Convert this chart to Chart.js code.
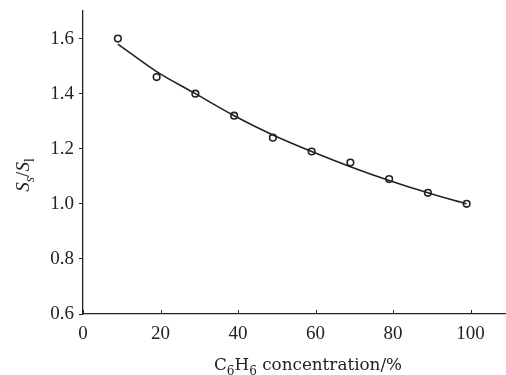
<!DOCTYPE html>
<html>
<head>
<meta charset="utf-8">
<script src="https://cdn.jsdelivr.net/npm/chart.js@4/dist/chart.umd.min.js"></script>
<style>
  html, body { margin: 0; background: #fff; overflow: hidden; }
  #wrap { width: 511px; height: 375px; position: relative; }
</style>
</head>
<body>
<div id="wrap"><canvas id="ratioChart"></canvas></div>
<script>
// measured points
var concentration = [9, 19, 29, 39, 49, 59, 69, 79, 89, 99];
var ratio = [1.60, 1.46, 1.40, 1.32, 1.24, 1.19, 1.15, 1.09, 1.04, 1.00];
// fitted curve
var fitConcentration = [9, 19, 29, 39, 49, 59, 69, 79, 89, 99];
var fitRatio = [1.58, 1.48, 1.40, 1.32, 1.25, 1.19, 1.135, 1.085, 1.04, 1.00];
// tick labels
var xTicks = [0, 20, 40, 60, 80, 100];
var yTicks = [0.6, 0.8, 1.0, 1.2, 1.4, 1.6];

var SERIF = "'Liberation Serif', 'Times New Roman', serif";
var WIDE_SERIF = "'DejaVu Serif', serif";
var INK = '#222';

// draws a run of text parts, some of them subscript
function drawParts(ctx, parts, size, family, x, y, align) {
    var fontFor = p => (p.italic ? 'italic ' : '') + (p.sub ? size * 0.72 : size) + 'px ' + family;
    var widths = parts.map(p => {
        ctx.font = fontFor(p);
        return ctx.measureText(p.t).width;
    });
    var total = widths.reduce((a, b) => a + b, 0);
    var cx = align === 'center' ? x - total / 2 : x;
    ctx.textBaseline = 'alphabetic';
    ctx.textAlign = 'left';
    parts.forEach((p, i) => {
        ctx.font = fontFor(p);
        ctx.fillText(p.t, cx, y + (p.sub ? size * 0.28 : 0));
        cx += widths[i];
    });
}

var axisTitles = {
    id: 'axisTitles',
    afterDraw: (chart) => {
        var ctx = chart.ctx;
        var xs = chart.scales.x;
        ctx.save();
        ctx.fillStyle = INK;

        // inward ticks on the x axis
        ctx.strokeStyle = INK;
        ctx.lineWidth = 1;
        xs.ticks.forEach(t => {
            var px = Math.round(xs.getPixelForValue(t.value)) + 0.5;
            ctx.beginPath();
            ctx.moveTo(px, xs.top);
            ctx.lineTo(px, xs.top - 4);
            ctx.stroke();
        });

        drawParts(ctx, [
            {t: 'C'}, {t: '6', sub: true}, {t: 'H'}, {t: '6', sub: true}, {t: ' concentration/%'}
        ], 16.8, WIDE_SERIF, 308, 370, 'center');

        ctx.translate(29, 175);
        ctx.rotate(-Math.PI / 2);
        drawParts(ctx, [
            {t: 'S', italic: true}, {t: 's', sub: true, italic: true}, {t: '/'},
            {t: 'S', italic: true}, {t: 'l', sub: true}
        ], 19, SERIF, 0, 0, 'center');
        ctx.restore();
    }
};

new Chart(document.getElementById('ratioChart'), {
    type: 'scatter',
    data: {
        datasets: [
            {
                label: 'fit',
                type: 'line',
                data: fitConcentration.map((c, i) => ({x: c, y: fitRatio[i]})),
                borderColor: INK,
                borderWidth: 1.6,
                pointRadius: 0,
                fill: false,
                cubicInterpolationMode: 'monotone'
            },
            {
                label: 'measured',
                data: concentration.map((c, i) => ({x: c, y: ratio[i]})),
                showLine: false,
                pointStyle: 'circle',
                pointRadius: 3.3,
                pointBorderWidth: 1.6,
                pointBorderColor: INK,
                pointBackgroundColor: 'rgba(255,255,255,0)'
            }
        ]
    },
    options: {
        responsive: true,
        maintainAspectRatio: false,
        animation: false,
        layout: { padding: { left: 0, right: 1, top: 11, bottom: 0 } },
        scales: {
            x: {
                type: 'linear',
                min: 0,
                max: 109,
                afterFit: (s) => {
                    s.height = 61;
                    s.paddingLeft = 0;
                    s.paddingRight = 0;
                },
                afterBuildTicks: (s) => { s.ticks = xTicks.map(v => ({value: v})); },
                border: { display: true, color: INK, width: 1.3 },
                grid: { display: false, drawTicks: false },
                ticks: {
                    padding: 9,
                    color: INK,
                    font: { family: SERIF, size: 19 }
                }
            },
            y: {
                min: 0.6,
                max: 1.7,
                afterFit: (s) => {
                    s.width = 83;
                    s.paddingTop = 0;
                    s.paddingBottom = 0;
                },
                afterBuildTicks: (s) => { s.ticks = yTicks.map(v => ({value: v})); },
                border: { display: true, color: INK, width: 1.3 },
                grid: { drawOnChartArea: false, drawTicks: true, tickLength: 4, color: INK },
                ticks: {
                    padding: 5,
                    color: INK,
                    font: { family: SERIF, size: 19 },
                    callback: (v) => v.toFixed(1)
                }
            }
        },
        plugins: {
            legend: { display: false },
            tooltip: { enabled: false }
        }
    },
    plugins: [axisTitles]
});
</script>
</body>
</html>
